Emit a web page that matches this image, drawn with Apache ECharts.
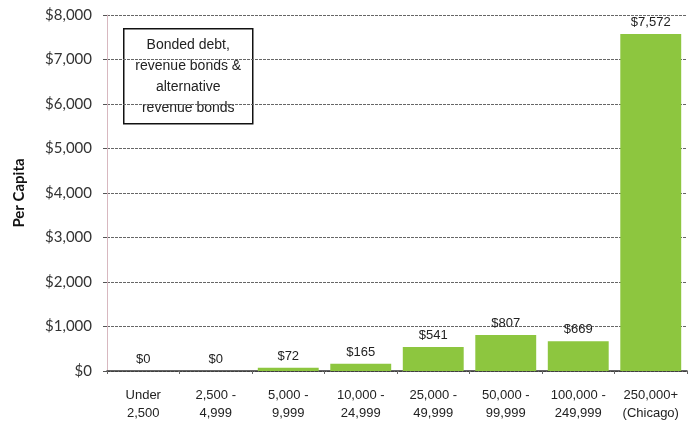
<!DOCTYPE html>
<html><head><meta charset="utf-8">
<script src="https://cdn.jsdelivr.net/npm/echarts@6/dist/echarts.min.js"></script>
<style>html,body{margin:0;padding:0;background:#fff}#c{width:689px;height:427px}</style>
</head><body><div id="c"></div>
<script>
const categories = ['Under\n2,500','2,500 -\n4,999','5,000 -\n9,999','10,000 -\n24,999','25,000 -\n49,999','50,000 -\n99,999','100,000 -\n249,999','250,000+\n(Chicago)'];
const values = [0, 0, 72, 165, 541, 807, 669, 7572];
const yTicks = [0, 1000, 2000, 3000, 4000, 5000, 6000, 7000, 8000];
const boxLines = ['Bonded debt,', 'revenue bonds &', 'alternative', 'revenue bonds'];

const chart = echarts.init(document.getElementById('c'));
chart.setOption({
  animation: false,
  grid: {left: 107, right: 2, top: 15, bottom: 56},
  xAxis: {
    type: 'category', data: categories,
    axisLine: {lineStyle: {color: '#333', width: 1.5}},
    axisTick: {show: true, alignWithLabel: false, length: 3, lineStyle: {color: '#666'}},
    axisLabel: {color: '#222', fontFamily: 'Liberation Sans', fontSize: 13, lineHeight: 18, margin: 15, interval: 0}
  },
  yAxis: {
    type: 'value', min: 0, max: 8000, interval: 1000,
    name: 'Per Capita', nameLocation: 'middle', nameGap: 80,
    nameTextStyle: {fontFamily: 'Lato', fontWeight: 'bold', fontSize: 15, color: '#111'},
    axisLine: {show: true, lineStyle: {color: '#d8b8c0', width: 1}},
    axisTick: {show: true, length: 4, lineStyle: {color: '#555'}},
    splitLine: {lineStyle: {color: '#666', type: [3, 1], width: 1}},
    axisLabel: {
      color: '#333', fontFamily: 'Lato', fontSize: 15, margin: 15,
      formatter: v => '$' + v.toLocaleString('en-US')
    }
  },
  series: [{
    type: 'bar', data: values, barCategoryGap: '16%',
    itemStyle: {color: '#8dc63f'},
    label: {
      show: true, position: 'top', distance: 5,
      fontFamily: 'Liberation Sans', fontSize: 13, color: '#222',
      formatter: p => '$' + p.value.toLocaleString('en-US')
    }
  }],
  graphic: [{
    type: 'group', left: 123, top: 28,
    children: [
      {type: 'rect', shape: {x: 0, y: 0, width: 129, height: 95}, style: {fill: '#fff', stroke: '#111', lineWidth: 1.5}},
      {type: 'text', x: 64.5, y: 48, style: {
        text: boxLines.join('\n'), align: 'center', verticalAlign: 'middle',
        fontFamily: 'Liberation Sans', fontSize: 14, lineHeight: 21, fill: '#222'
      }}
    ]
  }]
});
</script></body></html>
